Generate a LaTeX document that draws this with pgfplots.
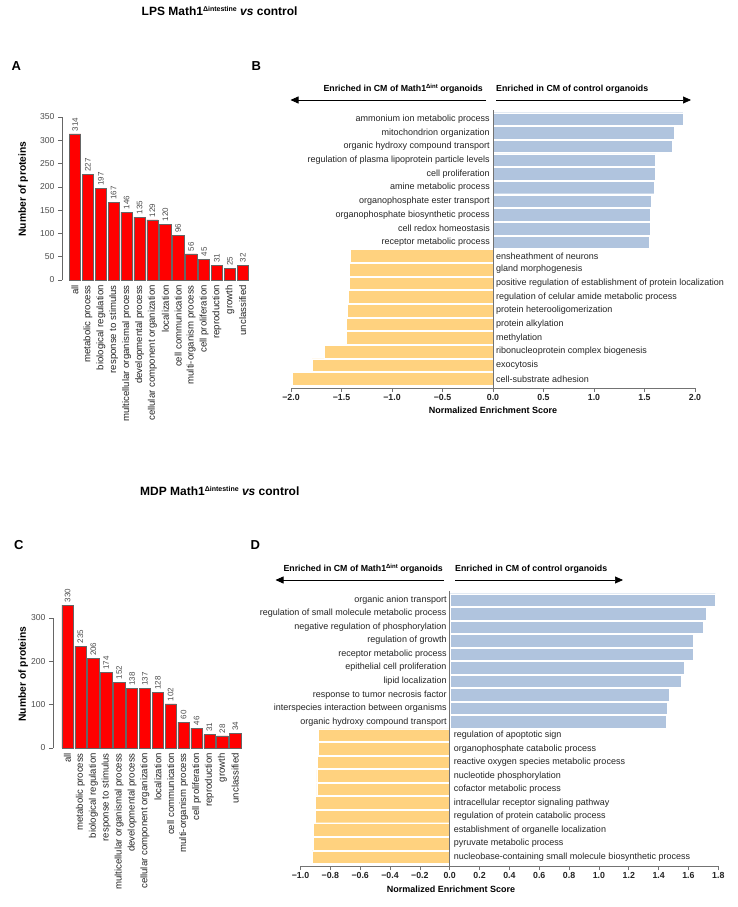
\documentclass[border=0pt]{standalone}
\usepackage{fontspec}
\setmainfont{Liberation Sans}
\usepackage{pgfplots}
\pgfplotsset{compat=1.18}
\usetikzlibrary{arrows.meta}
\definecolor{barred}{RGB}{255,0,0}
\definecolor{nesblue}{RGB}{176,196,222}
\definecolor{nesorange}{RGB}{255,210,127}
\definecolor{txt}{RGB}{35,35,35}
\newcommand{\sz}[1]{\fontsize{#1}{#1}\selectfont}
\newcommand{\dsup}[2]{\raisebox{0.6ex}{\sz{#1}#2}}

\tikzset{lab/.style={font=\sz{9}, text=txt, inner sep=0pt}}
\pgfplotsset{
 countbar/.style={
   scale only axis, axis x line*=bottom, axis y line*=left,
   x axis line style={draw=none}, major x tick style={draw=none},
   xtick={0,...,13},
   xticklabels={all, metabolic process, biological regulation, response to stimulus, multicellular organismal process, developmental process, cellular component organization, localization, cell communication, multi-organism process, cell proliferation, reproduction, growth, unclassified},
   xticklabel style={rotate=90, anchor=east, font=\sz{9.6}, text=txt, inner sep=1pt},
   yticklabel style={font=\sz{8.6}, text=black!70},
   tick align=outside, major tick length=4pt,
   y axis line style={black!60, line width=0.6pt},
   major y tick style={black!60, line width=0.6pt},
   /pgf/number format/assume math mode=true,
   clip=false,
 },
 barstyle/.style={ybar, bar width=11.3pt, bar shift=0pt, fill=barred, draw=black!60, line width=0.5pt,
   nodes near coords, nodes near coords style={rotate=90, anchor=west, font=\sz{8}, text=black!70, inner sep=2.5pt}},
 nesaxis/.style={
   scale only axis, axis x line*=bottom, axis y line=none, ytick=\empty,
   tick align=outside, major tick length=4pt,
   x axis line style={black!55, line width=0.6pt}, major x tick style={black!55, line width=0.6pt},
   xticklabel style={font=\bfseries\sz{8.8}, text=txt, inner sep=2pt},
   clip=false,
 },
 bluebar/.style={xbar, bar width=12.6pt, bar shift=0pt, fill=nesblue, draw=white, line width=0.4pt},
 orangebar/.style={xbar, bar width=12.6pt, bar shift=0pt, fill=nesorange, draw=white, line width=0.4pt},
}

\begin{document}
\begin{tikzpicture}
\useasboundingbox (0pt,0pt) rectangle (738pt,-907pt);

% ---------- titles and panel letters
\node[anchor=west, font=\bfseries\sz{12}, inner sep=0pt] at (141.5pt,-11pt) {LPS Math1\dsup{7}{Δintestine} \textit{vs} control};
\node[anchor=west, font=\bfseries\sz{12}, inner sep=0pt] at (140pt,-491pt) {MDP Math1\dsup{7}{Δintestine} \textit{vs} control};
\node[anchor=west, font=\bfseries\sz{13}, inner sep=0pt] at (11.5pt,-66pt) {A};
\node[anchor=west, font=\bfseries\sz{13}, inner sep=0pt] at (251.5pt,-66pt) {B};
\node[anchor=west, font=\bfseries\sz{13}, inner sep=0pt] at (14pt,-545pt) {C};
\node[anchor=west, font=\bfseries\sz{13}, inner sep=0pt] at (250.5pt,-545pt) {D};

% ---------- Panel A
\begin{axis}[countbar, at={(62pt,-280pt)}, anchor=south west,
  width=187.2pt, height=163pt, xmin=-1.008, xmax=13.5, ymin=0, ymax=350,
  ytick={0,50,...,350}]
\addplot[barstyle] coordinates {(0,314) (1,227) (2,197) (3,167) (4,146) (5,135) (6,129) (7,120) (8,96) (9,56) (10,45) (11,31) (12,25) (13,32)};
\end{axis}
\node[rotate=90, font=\bfseries\sz{10.3}, inner sep=0pt] at (23.3pt,-189pt) {Number of proteins};

% ---------- Panel C
\begin{axis}[countbar, at={(53pt,-748pt)}, anchor=south west,
  width=188.7pt, height=130pt, xmin=-1.124, xmax=13.5, ymin=0, ymax=300,
  ytick={0,100,200,300}]
\addplot[barstyle] coordinates {(0,330) (1,235) (2,206) (3,174) (4,152) (5,138) (6,137) (7,128) (8,102) (9,60) (10,46) (11,31) (12,28) (13,34)};
\end{axis}
\node[rotate=90, font=\bfseries\sz{10.3}, inner sep=0pt] at (23.3pt,-674pt) {Number of proteins};

% ---------- Panel B
\begin{axis}[nesaxis, at={(291pt,-388pt)}, anchor=south west,
  width=404pt, height=278pt, xmin=-2, xmax=2, ymin=-0.66, ymax=19.66,
  xtick={-2,-1.5,...,2},
  xticklabels={−2.0,−1.5,−1.0,−0.5,0.0,0.5,1.0,1.5,2.0}]
\addplot[bluebar] coordinates {(1.88,19) (1.79,18) (1.77,17) (1.61,16) (1.61,15) (1.60,14) (1.57,13) (1.56,12) (1.56,11) (1.55,10)};
\addplot[orangebar] coordinates {(-1.41,9) (-1.42,8) (-1.42,7) (-1.43,6) (-1.44,5) (-1.45,4) (-1.45,3) (-1.67,2) (-1.79,1) (-1.99,0)};
\draw[black!55, line width=0.5pt] (axis cs:0,-0.66) -- (axis cs:0,19.66);
\node[lab, anchor=east] at (axis cs:-0.03,19) {ammonium ion metabolic process};
\node[lab, anchor=east] at (axis cs:-0.03,18) {mitochondrion organization};
\node[lab, anchor=east] at (axis cs:-0.03,17) {organic hydroxy compound transport};
\node[lab, anchor=east] at (axis cs:-0.03,16) {regulation of plasma lipoprotein particle levels};
\node[lab, anchor=east] at (axis cs:-0.03,15) {cell proliferation};
\node[lab, anchor=east] at (axis cs:-0.03,14) {amine metabolic process};
\node[lab, anchor=east] at (axis cs:-0.03,13) {organophosphate ester transport};
\node[lab, anchor=east] at (axis cs:-0.03,12) {organophosphate biosynthetic process};
\node[lab, anchor=east] at (axis cs:-0.03,11) {cell redox homeostasis};
\node[lab, anchor=east] at (axis cs:-0.03,10) {receptor metabolic process};
\node[lab, anchor=west] at (axis cs:0.03,9) {ensheathment of neurons};
\node[lab, anchor=west] at (axis cs:0.03,8) {gland morphogenesis};
\node[lab, anchor=west] at (axis cs:0.03,7) {positive regulation of establishment of protein localization};
\node[lab, anchor=west] at (axis cs:0.03,6) {regulation of celular amide metabolic process};
\node[lab, anchor=west] at (axis cs:0.03,5) {protein heterooligomerization};
\node[lab, anchor=west] at (axis cs:0.03,4) {protein alkylation};
\node[lab, anchor=west] at (axis cs:0.03,3) {methylation};
\node[lab, anchor=west] at (axis cs:0.03,2) {ribonucleoprotein complex biogenesis};
\node[lab, anchor=west] at (axis cs:0.03,1) {exocytosis};
\node[lab, anchor=west] at (axis cs:0.03,0) {cell-substrate adhesion};
\end{axis}
\node[font=\bfseries\sz{9}, inner sep=0pt] at (493pt,-410pt) {Normalized Enrichment Score};
\draw[black, line width=0.7pt, -{Triangle[length=8pt,width=7pt]}] (486pt,-100pt) -- (290.5pt,-100pt);
\draw[black, line width=0.7pt, -{Triangle[length=8pt,width=7pt]}] (496pt,-100pt) -- (691pt,-100pt);
\node[anchor=east, font=\bfseries\sz{8.8}, inner sep=0pt] at (483pt,-89pt) {Enriched in CM of Math1\dsup{6}{Δint} organoids};
\node[anchor=west, font=\bfseries\sz{8.8}, inner sep=0pt] at (496pt,-89pt) {Enriched in CM of control organoids};

% ---------- Panel D
\begin{axis}[nesaxis, at={(300.5pt,-866pt)}, anchor=south west,
  width=417.8pt, height=275pt, xmin=-1, xmax=1.8, ymin=-0.665, ymax=19.665,
  xtick={-1,-0.8,...,1.8},
  xticklabels={−1.0,−0.8,−0.6,−0.4,−0.2,0.0,0.2,0.4,0.6,0.8,1.0,1.2,1.4,1.6,1.8}]
\addplot[bluebar] coordinates {(1.78,19) (1.72,18) (1.70,17) (1.63,16) (1.63,15) (1.57,14) (1.55,13) (1.47,12) (1.46,11) (1.45,10)};
\addplot[orangebar] coordinates {(-0.88,9) (-0.88,8) (-0.885,7) (-0.89,6) (-0.89,5) (-0.90,4) (-0.90,3) (-0.915,2) (-0.915,1) (-0.92,0)};
\draw[black!55, line width=0.5pt] (axis cs:0,-0.665) -- (axis cs:0,19.665);
\node[lab, anchor=east] at (axis cs:-0.02,19) {organic anion transport};
\node[lab, anchor=east] at (axis cs:-0.02,18) {regulation of small molecule metabolic process};
\node[lab, anchor=east] at (axis cs:-0.02,17) {negative regulation of phosphorylation};
\node[lab, anchor=east] at (axis cs:-0.02,16) {regulation of growth};
\node[lab, anchor=east] at (axis cs:-0.02,15) {receptor metabolic process};
\node[lab, anchor=east] at (axis cs:-0.02,14) {epithelial cell proliferation};
\node[lab, anchor=east] at (axis cs:-0.02,13) {lipid localization};
\node[lab, anchor=east] at (axis cs:-0.02,12) {response to tumor necrosis factor};
\node[lab, anchor=east] at (axis cs:-0.02,11) {interspecies interaction between organisms};
\node[lab, anchor=east] at (axis cs:-0.02,10) {organic hydroxy compound transport};
\node[lab, anchor=west] at (axis cs:0.027,9) {regulation of apoptotic sign};
\node[lab, anchor=west] at (axis cs:0.027,8) {organophosphate catabolic process};
\node[lab, anchor=west] at (axis cs:0.027,7) {reactive oxygen species metabolic process};
\node[lab, anchor=west] at (axis cs:0.027,6) {nucleotide phosphorylation};
\node[lab, anchor=west] at (axis cs:0.027,5) {cofactor metabolic process};
\node[lab, anchor=west] at (axis cs:0.027,4) {intracellular receptor signaling pathway};
\node[lab, anchor=west] at (axis cs:0.027,3) {regulation of protein catabolic process};
\node[lab, anchor=west] at (axis cs:0.027,2) {establishment of organelle localization};
\node[lab, anchor=west] at (axis cs:0.027,1) {pyruvate metabolic process};
\node[lab, anchor=west] at (axis cs:0.027,0) {nucleobase-containing small molecule biosynthetic process};
\end{axis}
\node[font=\bfseries\sz{9}, inner sep=0pt] at (451pt,-889pt) {Normalized Enrichment Score};
\draw[black, line width=0.7pt, -{Triangle[length=8pt,width=7pt]}] (444pt,-580pt) -- (275.5pt,-580pt);
\draw[black, line width=0.7pt, -{Triangle[length=8pt,width=7pt]}] (455pt,-580pt) -- (623pt,-580pt);
\node[anchor=east, font=\bfseries\sz{8.8}, inner sep=0pt] at (443pt,-569pt) {Enriched in CM of Math1\dsup{6}{Δint} organoids};
\node[anchor=west, font=\bfseries\sz{8.8}, inner sep=0pt] at (455pt,-569pt) {Enriched in CM of control organoids};
\end{tikzpicture}
\end{document}
